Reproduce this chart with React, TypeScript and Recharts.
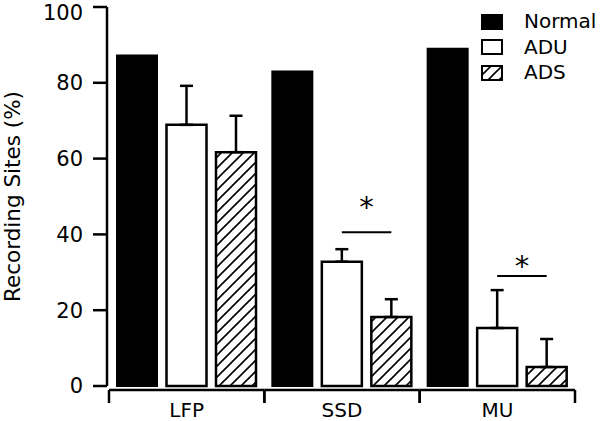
import React from 'react';
import { BarChart, Bar, XAxis, YAxis, ErrorBar, Legend, LabelList } from 'recharts';

const categories = ['LFP', 'SSD', 'MU'];
const normalValues = [87.2, 83.0, 89.0];
const aduValues = [68.9, 32.8, 15.3];
const aduErrors = [10.3, 3.3, 10.0];
const adsValues = [61.7, 18.2, 5.0];
const adsErrors = [9.6, 4.7, 7.4];
const sigLineValues = [null, 40.6, 29.0];
const sigStarValues = [null, 49.2, 33.5];
const yTicks = [0, 20, 40, 60, 80, 100];
const seriesNames = ['Normal', 'ADU', 'ADS'];

const data = categories.map((c, i) => ({
  cat: c,
  normal: normalValues[i],
  adu: aduValues[i],
  aduErr: [0, aduErrors[i]],
  ads: adsValues[i],
  adsErr: [0, adsErrors[i]],
}));

const W = 600;
const H = 421;
const MARGIN = { top: 7, right: 25, left: 0, bottom: 0 };
const Y_AXIS_W = 107;
const X_AXIS_H = 35;
const X_PAD_LEFT = 2;
const BAR_SIZE = 40;
const BAR_GAP = 9.5;
const FONT = '"DejaVu Sans", Verdana, sans-serif';
const BAND = (W - MARGIN.left - MARGIN.right - Y_AXIS_W - X_PAD_LEFT) / categories.length;

function CatTick(props: any) {
  const { x, y, payload } = props;
  const half = BAND / 2;
  const ly = y + 4;
  return (
    <g>
      <line x1={x - half} x2={x + half} y1={ly} y2={ly} stroke="#000" strokeWidth={2.5} />
      <line x1={x - half} x2={x - half} y1={ly} y2={ly + 13} stroke="#000" strokeWidth={2.5} />
      <line x1={x + half} x2={x + half} y1={ly} y2={ly + 13} stroke="#000" strokeWidth={2.5} />
      <text x={x} y={y + 31} textAnchor="middle" fontSize={20} fontFamily={FONT} fill="#000">
        {payload.value}
      </text>
    </g>
  );
}

function SigMark(props: any) {
  const vb = props.viewBox || props;
  const idx = props.index;
  const value = props.value;
  const lineV = sigLineValues[idx];
  const starV = sigStarValues[idx];
  if (lineV == null || starV == null || !vb || !value) return null;
  const bottom = vb.y + vb.height;
  const per = vb.height / value;
  const adsC = vb.x + vb.width / 2;
  const aduC = adsC - (vb.width + BAR_GAP);
  const ly = bottom - lineV * per;
  const sy = bottom - starV * per;
  return (
    <g>
      <line x1={aduC} x2={adsC} y1={ly} y2={ly} stroke="#000" strokeWidth={2} />
      <text x={(aduC + adsC) / 2} y={sy + 17} textAnchor="middle" fontSize={29} fontFamily={FONT} fill="#000">
        *
      </text>
    </g>
  );
}

function LegendIcon({ i }: { i: number }) {
  const fill = i === 0 ? '#000' : i === 1 ? '#fff' : 'url(#hatch)';
  return (
    <svg width={22} height={16} style={{ display: 'block' }}>
      <rect x={1} y={1} width={20} height={14} fill={fill} stroke="#000" strokeWidth={2} />
    </svg>
  );
}

function LegendContent() {
  return (
    <div style={{ fontFamily: FONT, fontSize: 20, color: '#000' }}>
      {seriesNames.map((n, i) => (
        <div key={n} style={{ display: 'flex', alignItems: 'center', height: 25.5 }}>
          <LegendIcon i={i} />
          <span style={{ marginLeft: 21, lineHeight: '25px' }}>{n}</span>
        </div>
      ))}
    </div>
  );
}

export default function App() {
  return (
    <div style={{ position: 'absolute', left: 0, top: 0, width: W, height: H, background: '#fff' }}>
      <svg width={0} height={0} style={{ position: 'absolute' }}>
        <defs>
          <pattern id="hatch" patternUnits="userSpaceOnUse" width={11} height={11}>
            <path d="M-3,3 L3,-3 M0,11 L11,0 M8,14 L14,8" stroke="#000" strokeWidth={1.6} />
          </pattern>
        </defs>
      </svg>
      <BarChart width={W} height={H} data={data} margin={MARGIN} barSize={BAR_SIZE} barGap={BAR_GAP}>
        <XAxis
          dataKey="cat"
          height={X_AXIS_H}
          padding={{ left: X_PAD_LEFT, right: 0 }}
          axisLine={false}
          tickLine={false}
          tickSize={0}
          tickMargin={0}
          tick={<CatTick />}
          interval={0}
        />
        <YAxis
          width={Y_AXIS_W}
          domain={[0, 100]}
          ticks={yTicks}
          tickSize={14}
          tickMargin={10}
          axisLine={{ stroke: '#000', strokeWidth: 2.5 }}
          tickLine={{ stroke: '#000', strokeWidth: 2.5 }}
          tick={{ fill: '#000', fontSize: 21, fontFamily: FONT }}
          label={{
            value: 'Recording Sites (%)',
            angle: -90,
            position: 'center',
            dx: -41,
            fill: '#000',
            fontSize: 21.5,
            fontFamily: FONT,
          }}
        />
        <Legend
          layout="vertical"
          align="center"
          verticalAlign="middle"
          content={<LegendContent />}
          wrapperStyle={{ left: 481, top: 9, width: 119, height: 80 }}
        />
        <Bar dataKey="normal" name="Normal" fill="#000" stroke="#000" strokeWidth={2} isAnimationActive={false} />
        <Bar dataKey="adu" name="ADU" fill="#fff" stroke="#000" strokeWidth={2.5} isAnimationActive={false}>
          <ErrorBar dataKey="aduErr" direction="y" width={6.5} stroke="#000" strokeWidth={2.5} isAnimationActive={false} />
        </Bar>
        <Bar dataKey="ads" name="ADS" fill="url(#hatch)" stroke="#000" strokeWidth={2.5} isAnimationActive={false}>
          <ErrorBar dataKey="adsErr" direction="y" width={6.5} stroke="#000" strokeWidth={2.5} isAnimationActive={false} />
          <LabelList dataKey="ads" content={<SigMark />} />
        </Bar>
      </BarChart>
    </div>
  );
}
